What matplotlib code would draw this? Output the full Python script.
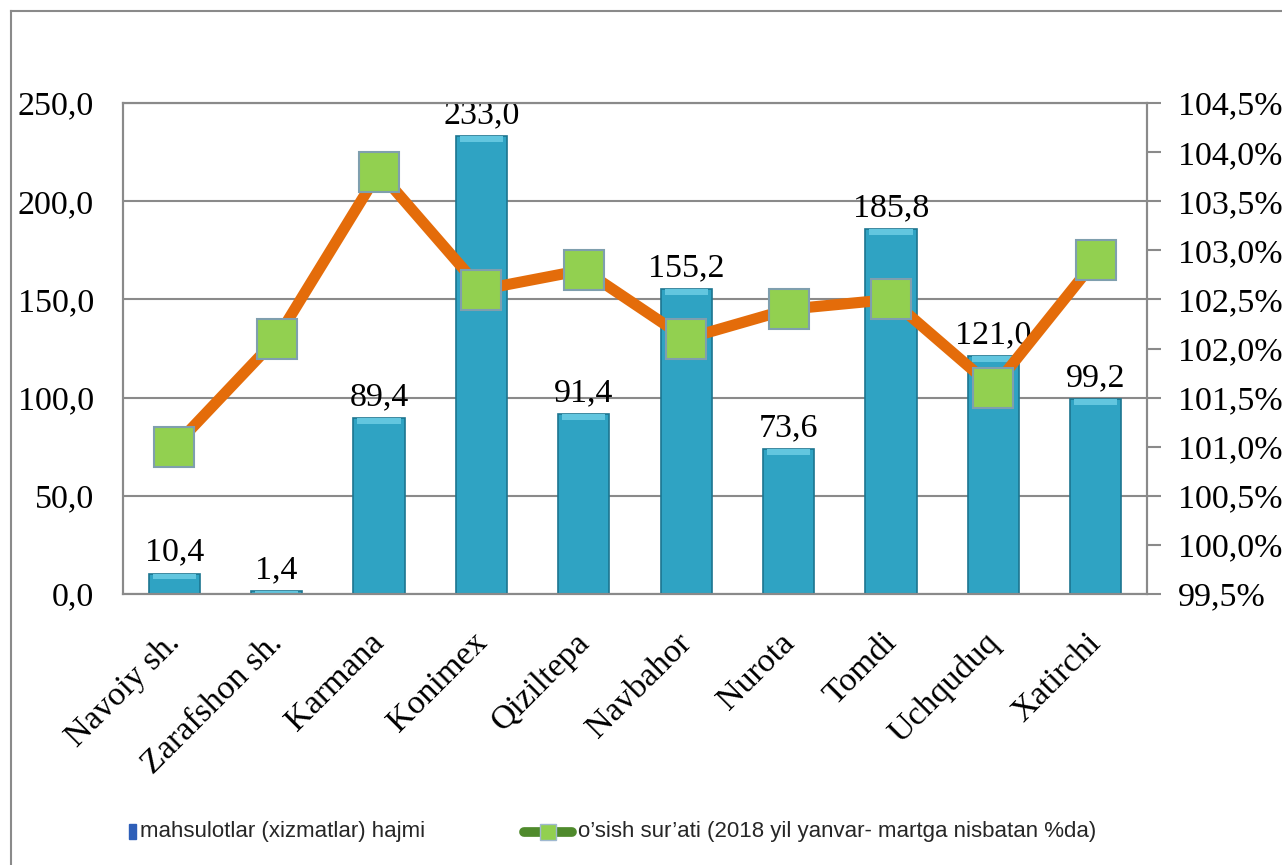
import matplotlib.pyplot as plt
from matplotlib.lines import Line2D
from matplotlib.patches import Rectangle
from matplotlib.ticker import FuncFormatter
from matplotlib.transforms import ScaledTranslation

# data
districts = ['Navoiy sh.', 'Zarafshon sh.', 'Karmana', 'Konimex', 'Qiziltepa',
             'Navbahor', 'Nurota', 'Tomdi', 'Uchquduq', 'Xatirchi']
volume = [10.4, 1.4, 89.4, 233.0, 91.4, 155.2, 73.6, 185.8, 121.0, 99.2]
growth = [101.0, 102.1, 103.8, 102.6, 102.8, 102.1, 102.4, 102.5, 101.6, 102.9]

bar_label = 'mahsulotlar (xizmatlar) hajmi'
line_label = "o\u2019sish sur\u2019ati (2018 yil yanvar- martga nisbatan %da)"

serif = 'Liberation Serif'
grid_col = '#8a8a8a'
bar_col = '#2fa3c3'
bar_edge = '#1c7590'
cap_col = '#62c6df'
line_col = '#e46c0a'
mark_col = '#92d050'

fig = plt.figure(figsize=(12.82, 8.65), dpi=100)
ax = fig.add_axes([123 / 1282, 1 - 594 / 865, (1147 - 123) / 1282, (594 - 103) / 865])

x = list(range(len(districts)))
ax.bar(x, volume, width=0.5, color=bar_col, edgecolor=bar_edge, linewidth=1.2, zorder=2)
# light bevel on top of every bar
caps = [min(v, 3.0) for v in volume]
ax.bar(x, caps, bottom=[v - c for v, c in zip(volume, caps)], width=0.42,
       color=cap_col, linewidth=0, zorder=2)

for xi, v in zip(x, volume):
    ax.text(xi, v + 3, f'{v:.1f}'.replace('.', ','), ha='center', va='bottom',
            fontsize=24.5, family=serif, zorder=3)

ax.set_ylim(0, 250)
ax.set_xlim(-0.5, len(districts) - 0.5)
ax.set_yticks(range(0, 251, 50))
ax.yaxis.set_major_formatter(FuncFormatter(lambda v, p: f'{v:.1f}'.replace('.', ',')))
ax.grid(axis='y', color=grid_col, linewidth=1.5, zorder=0)
ax.set_axisbelow(True)
for s in ax.spines.values():
    s.set_color(grid_col)
    s.set_linewidth(1.5)
ax.tick_params(axis='y', length=0, pad=21, labelsize=24.5)
ax.tick_params(axis='x', length=0, pad=24)
ax.set_xticks(x)
ax.set_xticklabels(districts, rotation=45, ha='right', va='top',
                   rotation_mode='anchor', fontsize=24.5, family=serif)
shift = ScaledTranslation(-10 / 100, 0, fig.dpi_scale_trans)
for lab in ax.get_xticklabels():
    lab.set_transform(lab.get_transform() + shift)
for lab in ax.get_yticklabels():
    lab.set_family(serif)

ax2 = ax.twinx()
ax2.plot(x, growth, color=line_col, linewidth=8, marker='s', markersize=29,
         markerfacecolor=mark_col, markeredgecolor='#7f9fae', markeredgewidth=1.5,
         solid_capstyle='butt', zorder=4)
ax2.set_ylim(99.5, 104.5)
ax2.set_yticks([99.5 + 0.5 * i for i in range(11)])
ax2.yaxis.set_major_formatter(FuncFormatter(lambda v, p: f'{v:.1f}%'.replace('.', ',')))
ax2.tick_params(axis='y', length=10, width=1.5, color=grid_col, pad=12, labelsize=24.5)
for lab in ax2.get_yticklabels():
    lab.set_family(serif)
for s in ax2.spines.values():
    s.set_color(grid_col)
    s.set_linewidth(1.5)

# outer chart border (only top and left edges are visible)
fig.add_artist(Line2D([11 / 1282, 11 / 1282], [0, 1 - 11 / 865], color=grid_col, linewidth=1.5))
fig.add_artist(Line2D([11 / 1282, 1], [1 - 11 / 865, 1 - 11 / 865], color=grid_col, linewidth=1.5))

# legend
ly = 1 - 832 / 865
fig.add_artist(Rectangle((129 / 1282, ly - 7 / 865), 7 / 1282, 15 / 865,
                         color='#2e5fb8', transform=fig.transFigure))
fig.text(140 / 1282, ly, bar_label, fontsize=16, family='Liberation Sans',
         color='#262626', va='center', ha='left')
fig.add_artist(Line2D([524 / 1282, 572 / 1282], [ly, ly], color='#4f8a2c', linewidth=7,
                      solid_capstyle='round'))
fig.add_artist(Line2D([548 / 1282], [ly], marker='s', markersize=11, linestyle='none',
                      markerfacecolor=mark_col, markeredgecolor='#9fb8d0'))
fig.text(578 / 1282, ly, line_label, fontsize=16, family='Liberation Sans',
         color='#262626', va='center', ha='left')

fig.savefig('out.png', dpi=100, facecolor='white')
